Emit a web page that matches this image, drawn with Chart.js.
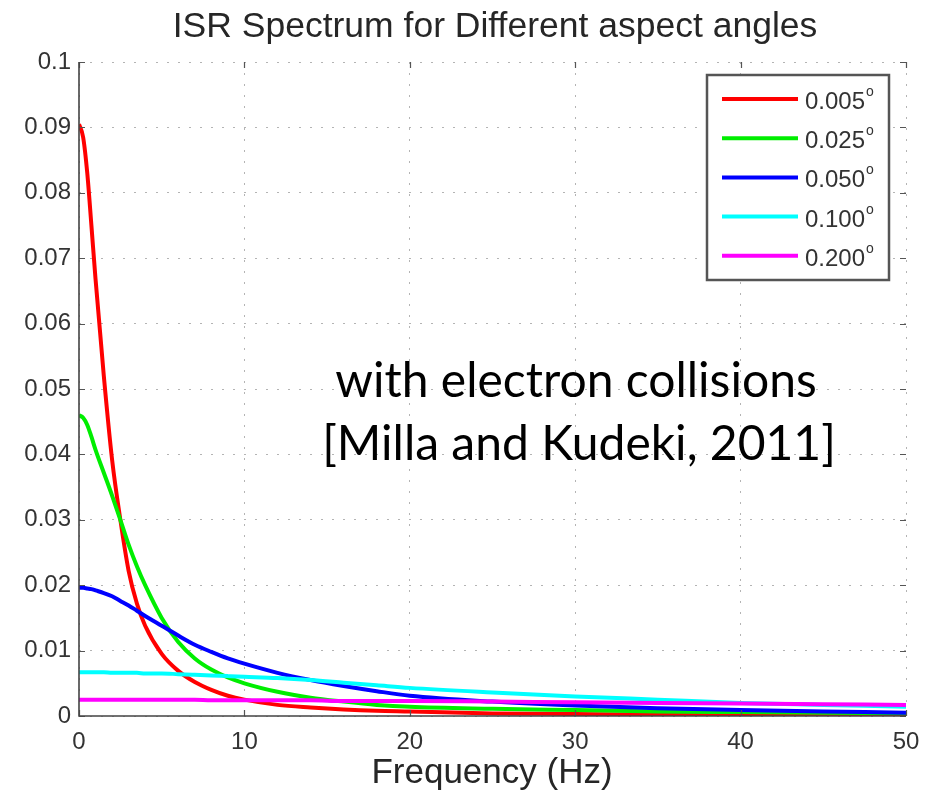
<!DOCTYPE html>
<html>
<head>
<meta charset="utf-8">
<script src="https://cdn.jsdelivr.net/npm/chart.js@4/dist/chart.umd.min.js"></script>
<style>
  html, body { margin: 0; padding: 0; background: #ffffff; }
  #wrap { position: relative; width: 933px; height: 792px; }
</style>
</head>
<body>
<div id="wrap"><canvas id="c" width="933" height="792"></canvas></div>
<script>
// ---- data ----
const chartTitle = "ISR Spectrum for Different aspect angles";
const xAxisTitle = "Frequency (Hz)";
const noteLines = ["with electron collisions", "[Milla and Kudeki, 2011]"];

const freqHz = [0, 0.25, 0.5, 0.75, 1, 1.5, 2, 2.5, 3, 3.5, 4, 5, 6, 7, 8, 9, 10, 12, 14, 16, 18, 20, 25, 30, 35, 40, 45, 50];

const seriesLabels = ["0.005", "0.025", "0.050", "0.100", "0.200"];
const seriesColors = ["#ff0000", "#00ee00", "#0000ff", "#00ffff", "#ff00ff"];

const angle005 = [0.0905, 0.0885, 0.0830, 0.0750, 0.0668, 0.0520, 0.0392, 0.0300, 0.0222, 0.0172, 0.0138, 0.0095, 0.0069, 0.0052, 0.0040, 0.0031, 0.0025, 0.0017, 0.0013, 0.0010, 0.0008, 0.0007, 0.0004, 0.0003, 0.0002, 0.0002, 0.0001, 0.0001];
const angle025 = [0.0460, 0.0456, 0.0445, 0.0427, 0.0407, 0.0372, 0.0337, 0.0300, 0.0262, 0.0229, 0.0200, 0.0150, 0.0113, 0.0088, 0.0071, 0.0059, 0.0050, 0.0037, 0.0028, 0.0022, 0.0017, 0.0014, 0.0011, 0.0009, 0.0007, 0.0006, 0.0005, 0.0004];
const angle050 = [0.0196, 0.0196, 0.0195, 0.0194, 0.0192, 0.0188, 0.0183, 0.0176, 0.0169, 0.0161, 0.0153, 0.0138, 0.0123, 0.0109, 0.0098, 0.0088, 0.0080, 0.0066, 0.0055, 0.0046, 0.0038, 0.0031, 0.0022, 0.0016, 0.0012, 0.0009, 0.0007, 0.0005];
const angle100 = [0.0067, 0.0067, 0.0067, 0.0067, 0.0067, 0.0067, 0.0066, 0.0066, 0.0066, 0.0066, 0.0065, 0.0065, 0.0064, 0.0063, 0.0062, 0.0061, 0.0060, 0.0058, 0.0055, 0.0051, 0.0047, 0.0043, 0.0036, 0.0030, 0.0025, 0.0020, 0.0017, 0.0014];
const angle200 = [0.0025, 0.0025, 0.0025, 0.0025, 0.0025, 0.0025, 0.0025, 0.0025, 0.0025, 0.0025, 0.0025, 0.0025, 0.0025, 0.0025, 0.0024, 0.0024, 0.0024, 0.0024, 0.0024, 0.0023, 0.0023, 0.0023, 0.0022, 0.0021, 0.0020, 0.0019, 0.0018, 0.0017];

const xTicks = [0, 10, 20, 30, 40, 50];
const yTicks = [0, 0.01, 0.02, 0.03, 0.04, 0.05, 0.06, 0.07, 0.08, 0.09, 0.1];
const yTickLabels = ["0", "0.01", "0.02", "0.03", "0.04", "0.05", "0.06", "0.07", "0.08", "0.09", "0.1"];

// ---- build chart ----
const allSeries = [angle005, angle025, angle050, angle100, angle200];
const datasets = allSeries.map((vals, i) => ({
  label: seriesLabels[i],
  data: freqHz.map((f, k) => ({ x: f, y: vals[k] })),
  borderColor: seriesColors[i],
  backgroundColor: seriesColors[i],
  borderWidth: 4,
  pointRadius: 0,
  fill: false,
  cubicInterpolationMode: 'monotone',
  order: allSeries.length - i
}));

const FONT = "'Liberation Sans', Arial, Helvetica, sans-serif";

const decorPlugin = {
  id: 'decor',
  afterDraw(chart) {
    const ctx = chart.ctx;
    const a = chart.chartArea;
    const xs = chart.scales.x, ys = chart.scales.y;
    ctx.save();
    // inward tick marks on all four sides
    ctx.strokeStyle = '#555';
    ctx.lineWidth = 1.2;
    const tl = 6;
    xTicks.forEach(v => {
      const px = Math.round(xs.getPixelForValue(v)) + 0.5;
      ctx.beginPath();
      ctx.moveTo(px, a.bottom); ctx.lineTo(px, a.bottom - tl);
      ctx.moveTo(px, a.top); ctx.lineTo(px, a.top + tl);
      ctx.stroke();
    });
    yTicks.forEach(v => {
      const py = Math.round(ys.getPixelForValue(v)) + 0.5;
      ctx.beginPath();
      ctx.moveTo(a.left, py); ctx.lineTo(a.left + tl, py);
      ctx.moveTo(a.right, py); ctx.lineTo(a.right - tl, py);
      ctx.stroke();
    });
    // left & bottom axis lines
    ctx.strokeStyle = '#444';
    ctx.lineWidth = 1.6;
    ctx.beginPath();
    ctx.moveTo(a.left, a.top); ctx.lineTo(a.left, a.bottom); ctx.lineTo(a.right, a.bottom);
    ctx.stroke();

    // title
    ctx.fillStyle = '#262626';
    ctx.textAlign = 'center';
    ctx.textBaseline = 'alphabetic';
    ctx.font = "35.5px " + FONT;
    ctx.fillText(chartTitle, 495, 37);
    // x axis title
    ctx.font = "35px " + FONT;
    ctx.fillText(xAxisTitle, 492, 783);

    // legend box
    const lx = 707, ly = 75, lw = 182, lh = 205;
    ctx.fillStyle = '#ffffff';
    ctx.fillRect(lx, ly, lw, lh);
    ctx.strokeStyle = '#555';
    ctx.lineWidth = 2.5;
    ctx.strokeRect(lx, ly, lw, lh);
    chart.data.datasets.forEach((ds, i) => {
      const ry = 99 + i * 39.2;
      ctx.strokeStyle = ds.borderColor;
      ctx.lineWidth = 4;
      ctx.beginPath();
      ctx.moveTo(722, ry); ctx.lineTo(798, ry);
      ctx.stroke();
      ctx.fillStyle = '#333';
      ctx.textAlign = 'left';
      ctx.textBaseline = 'alphabetic';
      ctx.font = "24px " + FONT;
      ctx.fillText(ds.label, 805, ry + 10);
      const w = ctx.measureText(ds.label).width;
      ctx.font = "14px " + FONT;
      ctx.fillText("o", 805 + w + 1, ry - 3);
    });

    // annotation
    ctx.fillStyle = '#000';
    ctx.textAlign = 'center';
    ctx.font = "48px Lato, 'Open Sans', sans-serif";
    ctx.fillText(noteLines[0], 576, 397);
    ctx.fillText(noteLines[1], 579, 460);
    ctx.restore();
  }
};

new Chart(document.getElementById('c'), {
  type: 'line',
  data: { datasets },
  options: {
    responsive: false,
    animation: false,
    devicePixelRatio: 1,
    layout: { padding: { top: 62, right: 27, left: 0, bottom: 0 } },
    plugins: { legend: { display: false }, title: { display: false }, tooltip: { enabled: false } },
    scales: {
      x: {
        type: 'linear',
        min: 0, max: 50,
        afterFit(s) { s.height = 76; },
        afterBuildTicks(s) { s.ticks = xTicks.map(v => ({ value: v })); },
        grid: { color: '#b4b4b4', lineWidth: 1, drawTicks: false },
        border: { display: false, dash: [2, 9] },
        ticks: { padding: 12, color: '#333', font: { family: FONT, size: 24 }, maxRotation: 0, callback: v => String(v) }
      },
      y: {
        type: 'linear',
        min: 0, max: 0.1,
        afterFit(s) { s.width = 79; },
        afterBuildTicks(s) { s.ticks = yTicks.map(v => ({ value: v })); },
        grid: { color: '#b4b4b4', lineWidth: 1, drawTicks: false },
        border: { display: false, dash: [2, 9] },
        ticks: { padding: 8, color: '#333', font: { family: FONT, size: 24 },
          callback: (v, idx) => yTickLabels[idx] }
      }
    }
  },
  plugins: [decorPlugin]
});
</script>
</body>
</html>
